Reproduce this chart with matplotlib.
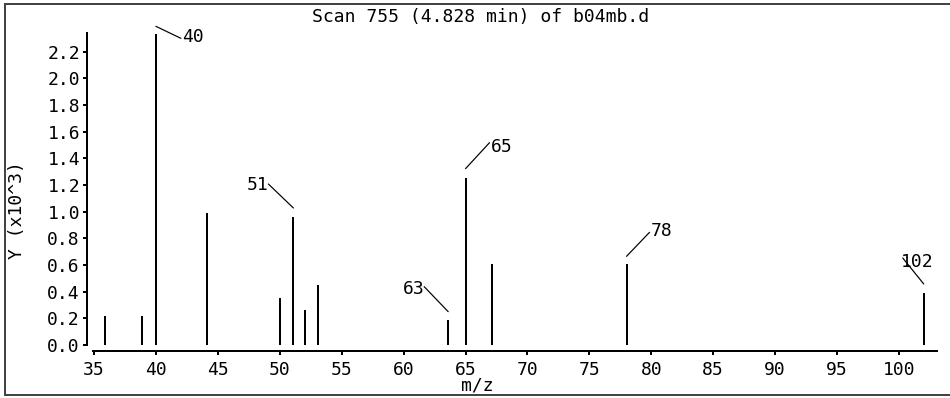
import matplotlib
matplotlib.use("Agg")
import matplotlib.pyplot as plt
from matplotlib.lines import Line2D

# Mass spectrum peaks (m/z, abundance in thousands)
mz = [35.9, 38.9, 40.0, 44.1, 50.0, 51.1, 52.0, 53.1, 63.6, 65.0, 67.1, 78.0, 102.0]
abundance = [0.22, 0.22, 2.33, 0.99, 0.35, 0.96, 0.26, 0.45, 0.19, 1.255, 0.605, 0.605, 0.39]
labelled_peaks = [40.0, 51.1, 63.6, 65.0, 78.0, 102.0]

x_ticks = [35, 40, 45, 50, 55, 60, 65, 70, 75, 80, 85, 90, 95, 100]
y_ticks = [0.0, 0.2, 0.4, 0.6, 0.8, 1.0, 1.2, 1.4, 1.6, 1.8, 2.0, 2.2]
title = "Scan 755 (4.828 min) of b04mb.d"
x_label = "m/z"
y_label = "Y (x10^3)"

# Leader line layout in pixels relative to each peak top:
# (line start dy, line end dx, line end dy, text dx, text dy, text alignment)
leader_layout = {
    40.0: (8, 25, -4, 26, -3, "left"),
    51.1: (9, -25, 33, -25, 32, "right"),
    63.6: (8, -24, 33, -24, 31, "right"),
    65.0: (9, 24, 35, 25, 31, "left"),
    78.0: (8, 23, 32, 24, 33, "left"),
    102.0: (9, -21, 35, -23, 31, "left"),
}

W, H = 950, 398
FONT = "DejaVu Sans Mono"
FS = 13
PX = 72 / 100  # points per pixel

fig = plt.figure(figsize=(W / 100, H / 100), dpi=100)
fig.patch.set_facecolor("white")

ax = fig.add_axes([93 / W, 53 / H, 844 / W, 312 / H])
ax.set_xlim(34.92, 103.07)
ax.set_ylim(0, 2.34)

ax.vlines(mz, 0, abundance, colors="black", linewidth=2 * PX)

for spine in ("top", "right"):
    ax.spines[spine].set_visible(False)
for spine in ("left", "bottom"):
    ax.spines[spine].set_position(("outward", 6 * PX))
    ax.spines[spine].set_linewidth(2 * PX)

ax.set_xticks(x_ticks)
ax.set_xticklabels([str(t) for t in x_ticks], fontfamily=FONT, fontsize=FS)
ax.set_yticks(y_ticks)
ax.set_yticklabels([f"{t:.1f}" for t in y_ticks], fontfamily=FONT, fontsize=FS)
ax.tick_params(axis="x", direction="out", length=4 * PX, width=2 * PX, pad=6 * PX)
ax.tick_params(axis="y", direction="out", length=4 * PX, width=2 * PX, pad=3 * PX)

# Peak labels with leader lines
for m, a in zip(mz, abundance):
    if m not in labelled_peaks:
        continue
    sy, ex, ey, tx, ty, ha = leader_layout[m]
    start = ax.transData.transform((m, a)) + (0, sy)
    end = start + (ex, ey - sy)
    ax.annotate("", xy=tuple(end), xycoords="figure pixels",
                xytext=tuple(start), textcoords="figure pixels",
                arrowprops=dict(arrowstyle="-", shrinkA=0, shrinkB=0,
                                lw=1.2 * PX, color="black"),
                annotation_clip=False)
    ax.annotate(f"{int(m)}", xy=(m, a), xycoords="data",
                xytext=(tx, ty), textcoords="offset pixels",
                ha=ha, va="center", fontfamily=FONT, fontsize=FS,
                annotation_clip=False)

fig.text(481 / W, (H - 17) / H, title, ha="center", va="center",
         fontfamily=FONT, fontsize=FS)
fig.text(477 / W, (H - 386) / H, x_label, ha="center", va="center",
         fontfamily=FONT, fontsize=FS)
fig.text(17 / W, (H - 210) / H, y_label, ha="center", va="center",
         rotation=90, fontfamily=FONT, fontsize=FS)

# Outer frame (left, top, bottom)
frame_color = "#444444"
fig.add_artist(Line2D([4.5 / W, 4.5 / W], [(H - 3.5) / H, (H - 395) / H],
                      transform=fig.transFigure, color=frame_color, lw=2 * PX))
fig.add_artist(Line2D([4.5 / W, 1.0], [(H - 3.5) / H, (H - 3.5) / H],
                      transform=fig.transFigure, color=frame_color, lw=2 * PX))
fig.add_artist(Line2D([4.5 / W, 1.0], [(H - 395) / H, (H - 395) / H],
                      transform=fig.transFigure, color=frame_color, lw=2 * PX))

fig.savefig("out.png", dpi=100)
